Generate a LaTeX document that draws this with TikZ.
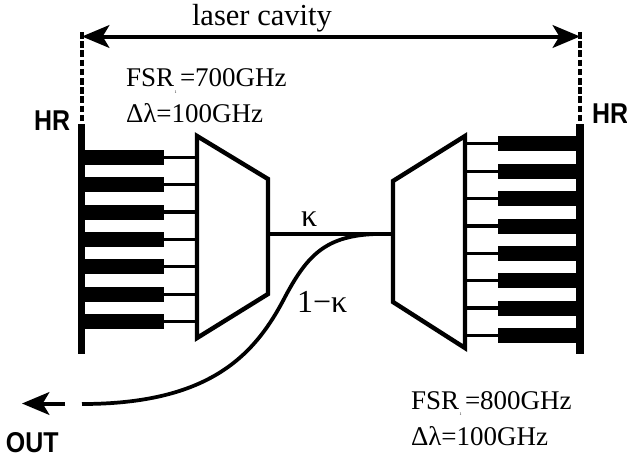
\documentclass[tikz,border=0pt]{standalone}
\usepackage{fontspec}
\setmainfont{Liberation Serif}
\setsansfont{Liberation Sans}
\usetikzlibrary{arrows.meta}
\tikzset{
  x=0.75pt,y=-0.75pt,
  label/.style={anchor=base west,inner sep=0pt,outer sep=0pt,font=\fontsize{20.25pt}{22pt}\selectfont},
  coupling/.style={anchor=base west,inner sep=0pt,outer sep=0pt,font=\fontsize{24pt}{26pt}\selectfont},
  sublabel/.style={anchor=base west,inner sep=0pt,outer sep=0pt,font=\fontsize{3pt}{3pt}\selectfont},
  hr/.style={anchor=base west,inner sep=0pt,outer sep=0pt,xscale=0.87,font=\fontsize{21.5pt}{22pt}\selectfont\sffamily\bfseries},
  mirror/.style={line width=5.6pt,line cap=butt},
  finger/.style={line width=11.25pt,line cap=butt},
  arm/.style={line width=2.6pt},
  awg/.style={line width=3.3pt,miter limit=10,line join=miter},
  guide/.style={line width=2.8pt},
  wave/.style={line width=2.8pt},
  boundary/.style={line width=3.2pt,dash pattern=on 4.9pt off 2pt},
  bigarrow/.style={line width=3pt,-{Stealth[length=20.5pt,width=17pt,inset=5pt]}},
  bothways/.style={line width=3pt,{Stealth[length=20.5pt,width=17pt,inset=5pt]}-{Stealth[length=20.5pt,width=17pt,inset=5pt]}},
}
\begin{document}
\begin{tikzpicture}
\useasboundingbox (0,0) rectangle (627,457);
% mirrors
\coordinate (mlt) at (81.7,124); \coordinate (mlb) at (81.7,354);
\coordinate (mrt) at (580,124); \coordinate (mrb) at (580,354);
\coordinate (dlt) at (81.7,32); \coordinate (drt) at (580,32);
\draw[mirror] (mlt) -- (mlb);
\draw[mirror] (mrt) -- (mrb);
\draw[boundary] (dlt) -- (mlt);
\draw[boundary] (drt) -- (mrt);
\coordinate (al) at (82,36.5); \coordinate (ar) at (580,36.5);
\draw[bothways] (al) -- (ar);
% left trapezoid
\coordinate (tl1) at (197,136); \coordinate (tl2) at (268,179);
\coordinate (tl3) at (268,294); \coordinate (tl4) at (197,338);
\draw[awg] (tl1) -- (tl2) -- (tl3) -- (tl4) -- cycle;
% right trapezoid
\coordinate (tr1) at (465,136); \coordinate (tr2) at (393,181);
\coordinate (tr3) at (393,302); \coordinate (tr4) at (465,348);
\draw[awg] (tr1) -- (tr2) -- (tr3) -- (tr4) -- cycle;
% left arms
\foreach \i/\y in {1/157.5,2/184.5,3/212,4/239.5,5/266.5,6/294.5,7/321.5}{
  \coordinate (lm\i) at (81.7,\y); \coordinate (lf\i) at (164,\y); \coordinate (la\i) at (197,\y);
  \draw[finger] (lm\i) -- (lf\i);
  \draw[arm] (lf\i) -- (la\i);
}
% right arms
\foreach \i/\y in {1/143.7,2/171.3,3/198.7,4/226,5/253.3,6/280.7,7/308,8/335.3}{
  \coordinate (rm\i) at (580,\y); \coordinate (rf\i) at (498,\y); \coordinate (ra\i) at (465,\y);
  \draw[finger] (rm\i) -- (rf\i);
  \draw[arm] (rf\i) -- (ra\i);
}
% coupler
\coordinate (cl) at (268,234); \coordinate (cr) at (393,234);
\coordinate (cm) at (285,297); \coordinate (ce) at (82,404);
\draw[guide] (cl) -- (cr);
\draw[wave] (cr) .. controls (330,232) and (310,250) .. (cm) .. controls (255,355) and (210,404) .. (ce);
\coordinate (ot) at (65,403.5); \coordinate (oh) at (22,403.5);
\draw[bigarrow] (ot) -- (oh);
% labels
\node[label,font=\fontsize{22.9pt}{24pt}\selectfont] (cav) at (192,25) {laser cavity};
\node[label] (f1) at (126,86.7) {FSR};
\node[sublabel] (f1s) at (174.5,93) {1};
\node[label] (f1v) at (180,86.7) {=700GHz};
\node[label] (d1) at (126,122.7) {Δλ=100GHz};
\node[label] (f2) at (411,409) {FSR};
\node[sublabel] (f2s) at (459.5,415.5) {1};
\node[label] (f2v) at (465,409) {=800GHz};
\node[label] (d2) at (411,445) {Δλ=100GHz};
\node[coupling] (k) at (301,226) {κ};
\node[coupling] (k1) at (297,312) {1−κ};
\node[hr] (hl) at (34,130) {HR};
\node[hr] (hr2) at (592,123) {HR};
\node[hr] (out) at (6,452.5) {OUT};
\end{tikzpicture}
\end{document}
